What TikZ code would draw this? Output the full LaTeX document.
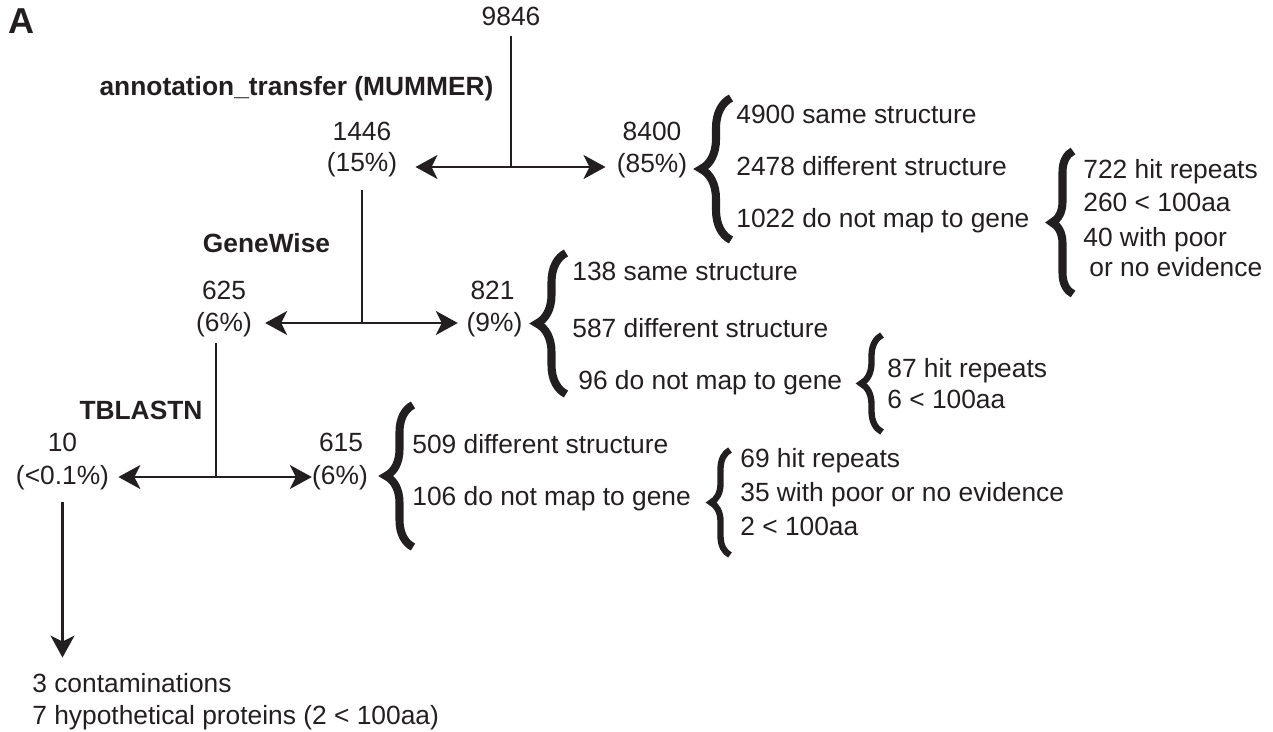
\documentclass[tikz,border=0pt]{standalone}
\usepackage{fontspec}
\setmainfont{Liberation Sans}
\usetikzlibrary{arrows.meta,decorations.pathreplacing}
\definecolor{ink}{HTML}{231F20}

\begin{document}
\begin{tikzpicture}[x=0.02cm,y=-0.02cm,color=ink,
    count/.style={anchor=base},
    item/.style={anchor=base west},
    method/.style={anchor=base, font=\fontsize{15}{18}\selectfont\bfseries},
    link/.style={line width=1.3pt},
    flow/.style={line width=1.3pt, -{Stealth[length=0.44cm, width=0.48cm, inset=0.12cm]}},
    split/.style={line width=1.3pt, {Stealth[length=0.44cm, width=0.48cm, inset=0.12cm]}-{Stealth[length=0.44cm, width=0.48cm, inset=0.12cm]}},
    bigbrace/.style={decorate, decoration={brace, amplitude=#1}, line width=4.6pt},
    smallbrace/.style={decorate, decoration={brace, amplitude=#1}, line width=3.6pt}]
    \tikzstyle{every node}+=[inner sep=0pt, font=\fontsize{15}{18}\selectfont]
    \useasboundingbox (0,0) rectangle (1273,731);
    \node[font=\fontsize{20.5}{24}\selectfont\bfseries] (panel) at (22,21) {A};
    % first step
    \node[count] (n9846) at (511,25.5) {9846};
    \node[method] (mummer) at (296.5,95) {annotation\_transfer (MUMMER)};
    \node[count] (n1446) at (362,140.5) {1446};
    \node[count] (p1446) at (362,171.5) {(15\%)};
    \node[count] (n8400) at (652,140.5) {8400};
    \node[count] (p8400) at (652,172.5) {(85\%)};
    \coordinate (j1) at (511,167);
    \draw[link, shorten <=0.19cm] (n9846.south) -- (j1);
    \draw[split, shorten <=0.36cm, shorten >=0.22cm] (p1446.east |- j1) -- (p8400.west |- j1);
    \node[item] (same1) at (736,123) {4900 same structure};
    \node[item] (diff1) at (736,175) {2478 different structure};
    \node[item] (nomap1) at (736,227) {1022 do not map to gene};
    \draw[bigbrace=0.6cm] (731,240) -- (731,98);
    \node[item] (rep1) at (1083,178.5) {722 hit repeats};
    \node[item] (short1) at (1083,211) {260 < 100aa};
    \node[item] (poor1) at (1083,246) {40 with poor};
    \node[item] (poor1b) at (1089,276) {or no evidence};
    \draw[bigbrace=0.42cm] (1073,294) -- (1073,151);
    % second step
    \node[method] (genewise) at (266.5,252) {GeneWise};
    \node[count] (n625) at (224,299.5) {625};
    \node[count] (p625) at (224,331.5) {(6\%)};
    \node[count] (n821) at (492.5,299.5) {821};
    \node[count] (p821) at (494.5,331.5) {(9\%)};
    \coordinate (j2) at (362,323);
    \draw[link, shorten <=0.26cm] (p1446.south -| j2) -- (j2);
    \draw[split, shorten <=0.26cm, shorten >=0.17cm] (p625.east |- j2) -- (p821.west |- j2);
    \node[item] (same2) at (572,280.5) {138 same structure};
    \node[item] (diff2) at (572,337) {587 different structure};
    \node[item] (nomap2) at (578,389) {96 do not map to gene};
    \draw[bigbrace=0.58cm] (566,394) -- (566,253);
    \node[item] (rep2) at (887,377) {87 hit repeats};
    \node[item] (short2) at (887,408) {6 < 100aa};
    \draw[smallbrace=0.42cm] (882,432) -- (882,335);
    % third step
    \node[method] (tblastn) at (141,419) {TBLASTN};
    \node[count] (n10) at (62.5,451.5) {10};
    \node[count] (p10) at (62.5,484.5) {(<0.1\%)};
    \node[count] (n615) at (341,451.5) {615};
    \node[count] (p615) at (340,484.5) {(6\%)};
    \coordinate (j3) at (216,477);
    \draw[link, shorten <=0.12cm] (p625.south -| j3) -- (j3);
    \draw[split, shorten <=0.18cm] (p10.east |- j3) -- (p615.west |- j3);
    \node[item] (diff3) at (412,453) {509 different structure};
    \node[item] (nomap3) at (412,505) {106 do not map to gene};
    \draw[bigbrace=0.54cm] (413,547) -- (413,405);
    \node[item] (rep3) at (740,467) {69 hit repeats};
    \node[item] (poor3) at (740,501) {35 with poor or no evidence};
    \node[item] (short3) at (740,535) {2 < 100aa};
    \draw[smallbrace=0.38cm] (730,555) -- (730,450);
    % left over
    \node[item] (contam) at (32,692) {3 contaminations};
    \node[item] (hypo) at (32,724.5) {7 hypothetical proteins (2 < 100aa)};
    \draw[flow, shorten <=0.24cm, shorten >=0.3cm] (p10.south) -- (p10.south |- contam.north);
\end{tikzpicture}
\end{document}
